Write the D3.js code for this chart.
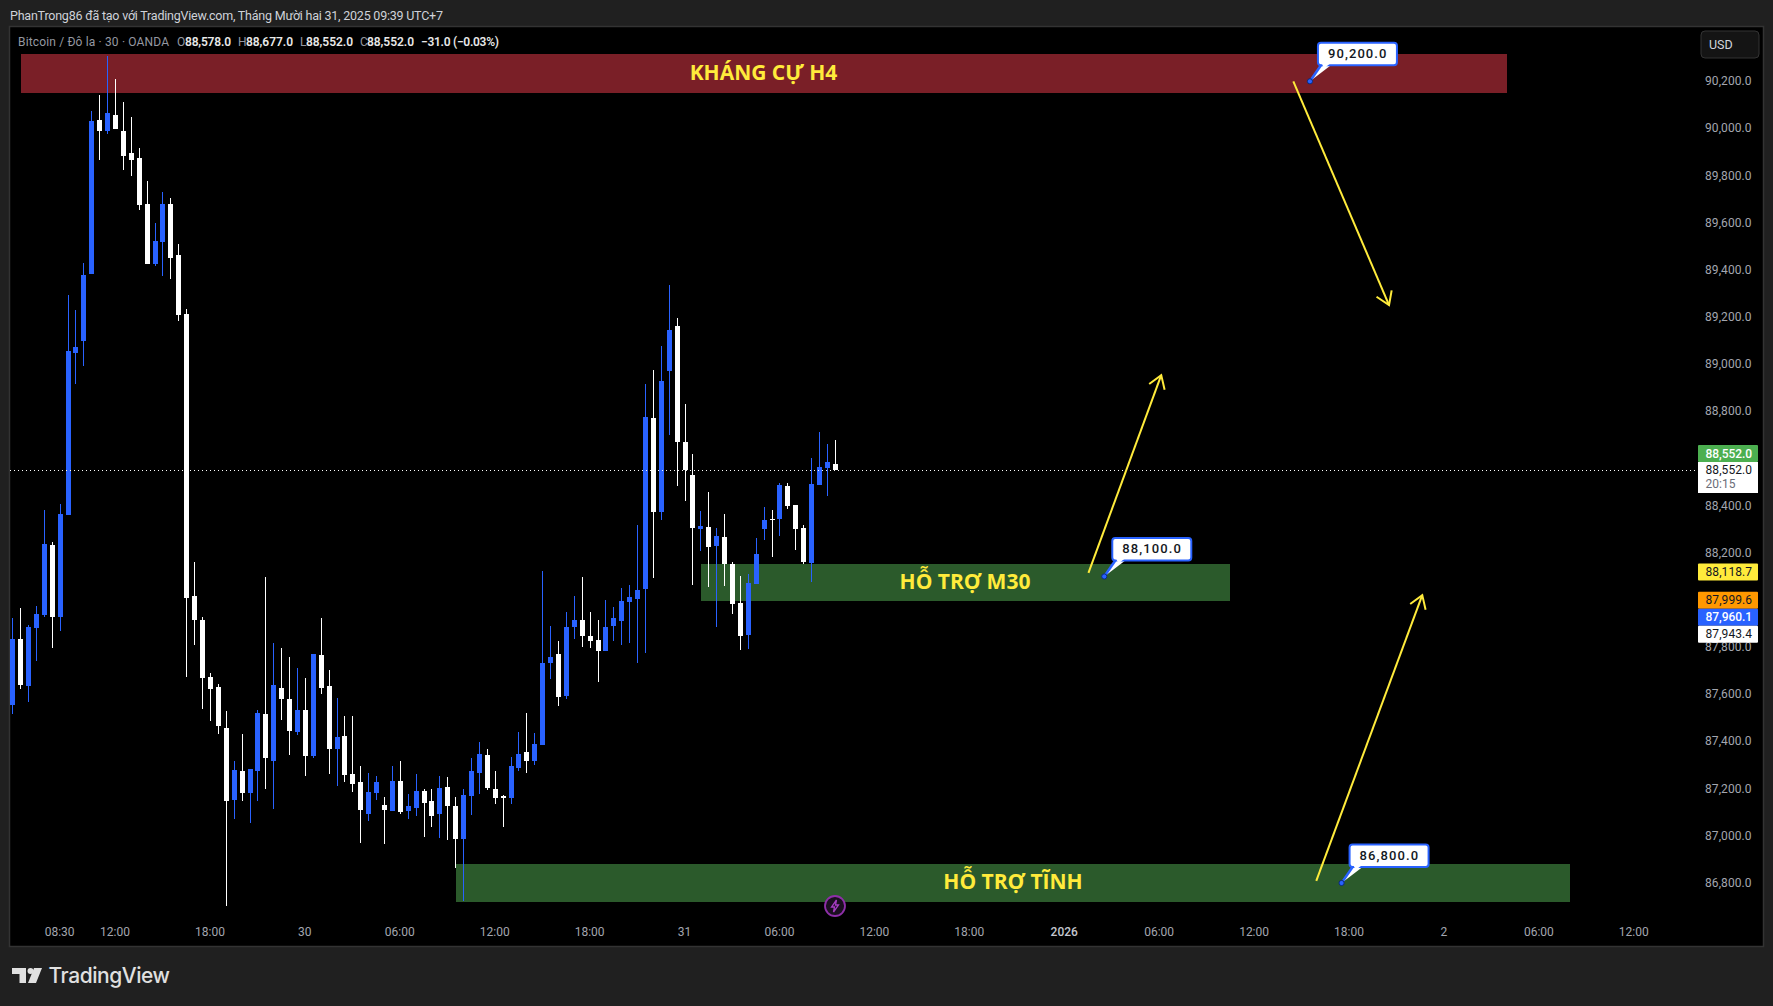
<!DOCTYPE html>
<html lang="vi">
<head>
<meta charset="utf-8">
<title>Bitcoin / Đô la</title>
<script src="https://cdnjs.cloudflare.com/ajax/libs/d3/7.8.5/d3.min.js"></script>
<style>
html,body{margin:0;padding:0;background:#202020;overflow:hidden}
svg{display:block}
text{font-family:Roboto,"Noto Sans",sans-serif}
</style>
</head>
<body>
<svg id="c" width="1773" height="1006"></svg>
<script>
const opens=[87555,87835,87636,87882,87937,88234,87928,88361,89048,89099,89383,90036,89989,90057,89989,89896,89875,89680,89425,89519,89680,89464,89213,88017,87916,87674,87631,87458,87152,87275,87182,87275,87517,87318,87627,87581,87441,87534,87339,87767,87636,87368,87424,87262,87229,87093,87182,87131,87106,87233,87106,87118,87190,87148,87093,87207,87127,86987,87169,87267,87343,87199,87169,87161,87288,87356,87318,87385,87733,87771,87593,87886,87916,87848,87831,87784,87890,87911,87992,88005,88047,88772,88374,88972,89162,88671,88531,88302,88310,88229,88268,88153,87988,87852,88068,88302,88344,88344,88484,88403,88306,88157,88488,88560,88578];
const highs=[87924,87967,87894,87975,88382,88246,88408,89294,89230,89430,90074,90142,90308,90210,90112,90049,89917,89777,89599,89731,89705,89510,89235,88162,87928,87691,87644,87530,87318,87432,87284,87534,88098,87818,87797,87759,87712,87670,87771,87924,87704,87585,87508,87508,87296,87267,87254,87165,87296,87318,87178,87262,87199,87199,87254,87250,87165,87199,87330,87398,87368,87275,87173,87335,87441,87521,87436,88123,87890,87826,87949,88017,88098,87949,87916,88000,87971,88051,88064,88319,88917,88976,89078,89336,89196,88832,88620,88378,88458,88306,88365,88162,88102,88111,88263,88395,88382,88497,88497,88403,88319,88603,88713,88662,88677];
const lows=[87517,87623,87568,87742,87928,87797,87869,88361,88916,88993,89383,89866,89977,89998,89824,89799,89654,89425,89417,89375,89362,89184,87674,87810,87538,87487,87432,86703,87072,87148,87055,87148,87199,87114,87491,87343,87428,87254,87330,87602,87262,87212,87229,87186,86970,87063,87152,86966,87106,87093,87072,87084,86995,87038,86991,86983,86864,86724,87089,87178,87195,87135,87038,87135,87275,87267,87301,87385,87665,87551,87581,87835,87801,87797,87653,87784,87826,87810,87818,87733,87776,88094,88340,88700,88484,88420,88064,88208,88056,87886,88060,87941,87788,87793,88068,88255,88183,88272,88386,88212,88153,88077,88488,88442,88552];
const closes=[87835,87640,87886,87941,88238,87928,88365,89056,89073,89379,90032,89989,90066,89998,89883,89866,89676,89425,89523,89680,89451,89209,88009,87916,87670,87623,87466,87148,87279,87182,87284,87521,87330,87640,87581,87445,87534,87339,87771,87627,87368,87419,87258,87220,87110,87186,87229,87110,87233,87101,87127,87190,87140,87084,87203,87127,86987,87173,87275,87347,87203,87161,87161,87296,87347,87318,87390,87733,87759,87589,87886,87916,87848,87826,87784,87886,87924,87996,88013,88043,88776,88374,88929,89145,88671,88552,88306,88314,88225,88272,88153,87983,87848,88073,88195,88340,88340,88488,88399,88302,88162,88492,88564,88586,88552];

const timeBars=[6,13,25,37,49,61,73,85,97,109,121,133,145,157,169,181,193,205];
const timeLabels=["08:30","12:00","18:00","30","06:00","12:00","18:00","31","06:00","12:00","18:00","2026","06:00","12:00","18:00","2","06:00","12:00"];
const priceTicks=[86800,87000,87200,87400,87600,87800,88200,88400,88800,89000,89200,89400,89600,89800,90000,90200];

const zoneNames=["KHÁNG CỰ H4","HỖ TRỢ M30","HỖ TRỢ TĨNH"];
const zoneTop=[90316,88153,86881];
const zoneBottom=[90150,87996,86720];
const zoneStart=[1,87,56];
const zoneEnd=[188.9,153.9,196.9];
const zoneFill=["#7a1f27","#2b5a2b","#2b5a2b"];

const calloutBars=[164,138,168];
const calloutPrices=[90200,88100,86800];

const arrowStartBars=[161.9,136,164.8];
const arrowStartPrices=[90200,88115,86809];
const arrowEndBars=[174,145.2,178.2];
const arrowEndPrices=[89251,88954,88021];

const lastPrice=88552;
const yellowTag=88118.7, orangeTag=87999.6, blueTag=87960.1, whiteTag=87943.4;

const svg=d3.select("#c");
const x=d3.scaleLinear().domain([0,205]).range([12.7,1634.25]);
const y=d3.scaleLinear().domain([90200,86800]).range([81.3,883]);
const fmt=d3.format(",.1f");
const BLUE="#2962ff", WHITE="#ffffff", AXIS="#a3a6af", L=10,T=27,R=1763,B=946;

// frame
svg.append("rect").attr("width",1773).attr("height",1006).attr("fill","#202020");
svg.append("rect").attr("x",L-.5).attr("y",T-.5).attr("width",R-L+1).attr("height",B-T+1).attr("fill","#000").attr("stroke","#333").attr("stroke-width",1.5);

function fit(sel,len){return sel.attr("textLength",len).attr("lengthAdjust","spacing");}

// header
fit(svg.append("text").attr("x",10).attr("y",19.5).attr("fill","#cfd2d9").attr("font-size",12.5)
 .text("PhanTrong86 đã tạo với TradingView.com, Tháng Mười hai 31, 2025 09:39 UTC+7"),433);

// zones
const zones=zoneNames.map((n,i)=>({n,top:zoneTop[i],bot:zoneBottom[i],s:zoneStart[i],e:zoneEnd[i],f:zoneFill[i]}));
svg.append("g").selectAll("rect").data(zones).join("rect")
 .attr("x",d=>x(d.s)).attr("width",d=>x(d.e)-x(d.s))
 .attr("y",d=>y(d.top)).attr("height",d=>y(d.bot)-y(d.top)).attr("fill",d=>d.f).attr("shape-rendering","crispEdges");

// candles
const candles=opens.map((o,i)=>({i,o,h:highs[i],l:lows[i],c:closes[i]}));
const gC=svg.append("g").attr("shape-rendering","crispEdges");
const px=i=>Math.floor(x(i))+.5;
const color=d=>d.c>d.o?BLUE:WHITE;
gC.selectAll("line").data(candles).join("line")
 .attr("x1",d=>px(d.i)).attr("x2",d=>px(d.i)).attr("y1",d=>y(d.h)).attr("y2",d=>y(d.l))
 .attr("stroke",color).attr("stroke-width",1);
gC.selectAll("rect").data(candles).join("rect")
 .attr("x",d=>Math.max(L,px(d.i)-2.5)).attr("width",d=>px(d.i)+2.5-Math.max(L,px(d.i)-2.5))
 .attr("y",d=>y(Math.max(d.o,d.c))).attr("height",d=>Math.max(1.5,Math.abs(y(d.o)-y(d.c))))
 .attr("fill",color);

// last price line
const lineY=Math.round(y(lastPrice))+.5;
svg.append("line").attr("x1",L).attr("x2",1698).attr("y1",lineY).attr("y2",lineY)
 .attr("stroke","#fff").attr("stroke-width",1).attr("stroke-dasharray","1,3").attr("shape-rendering","crispEdges");

// zone labels
const zoneLabelX=[763.5,965,1013];
svg.append("g").selectAll("text").data(zones).join("text")
 .attr("x",(d,i)=>zoneLabelX[i]).attr("y",d=>(y(d.top)+y(d.bot))/2+6.5)
 .attr("text-anchor","middle").attr("fill","#ffeb3b").attr("font-weight",700).attr("font-size",21)
 .style("font-family",'"Open Sans",Roboto,sans-serif').text(d=>d.n);

// arrows
const arrows=arrowStartBars.map((b,i)=>({x1:x(b),y1:y(arrowStartPrices[i]),x2:x(arrowEndBars[i]),y2:y(arrowEndPrices[i])}));
const gA=svg.append("g").attr("stroke","#ffeb3b").attr("stroke-width",2).attr("fill","none");
arrows.forEach(a=>{
  const ang=Math.atan2(a.y2-a.y1,a.x2-a.x1), w=15, sp=.58;
  gA.append("path").attr("d",d3.line()([[a.x1,a.y1],[a.x2,a.y2]]));
  gA.append("path").attr("d",d3.line()([
    [a.x2-w*Math.cos(ang-sp),a.y2-w*Math.sin(ang-sp)],[a.x2,a.y2],[a.x2-w*Math.cos(ang+sp),a.y2-w*Math.sin(ang+sp)]]));
});

// callouts
calloutBars.forEach((b,i)=>{
  const dx=x(b), dy=y(calloutPrices[i]), bx=dx+8, by=dy-38.5, bw=79, bh=22.5;
  const g=svg.append("g");
  g.append("path").attr("d",`M${dx},${dy}L${bx+3},${by+bh}L${bx+13},${by+bh}Z`).attr("fill","#fff");
  g.append("line").attr("x1",dx).attr("y1",dy).attr("x2",bx+3).attr("y2",by+bh).attr("stroke",BLUE).attr("stroke-width",2.5);
  g.append("rect").attr("x",bx).attr("y",by).attr("width",bw).attr("height",bh).attr("rx",3).attr("fill","#fff").attr("stroke",BLUE).attr("stroke-width",2);
  g.append("path").attr("d",`M${bx+4},${by+bh-1.5}L${bx+12},${by+bh-1.5}L${bx+6},${by+bh+3}Z`).attr("fill","#fff");
  g.append("circle").attr("cx",dx).attr("cy",dy).attr("r",2.6).attr("fill",BLUE).attr("stroke","#0b2a7a").attr("stroke-width",1);
  fit(g.append("text").attr("x",bx+10).attr("y",by+15.5).attr("fill","#131722").attr("font-size",13).attr("font-weight",500).text(fmt(calloutPrices[i])),58.5);
});

// axes
const yAxis=d3.axisRight(y).tickValues(priceTicks).tickFormat(fmt).tickSize(0).tickPadding(0);
const gy=svg.append("g").attr("transform","translate(1705,-0.4)").call(yAxis);
gy.select(".domain").remove();
gy.selectAll("text").attr("fill",AXIS).attr("font-size",12).attr("x",0).attr("textLength",46.5).attr("lengthAdjust","spacing");

const xAxis=d3.axisBottom(x).tickValues(timeBars).tickFormat((d,i)=>timeLabels[i]).tickSize(0).tickPadding(0);
const gx=svg.append("g").attr("transform","translate(-1,927.5)").call(xAxis);
gx.select(".domain").remove();
gx.selectAll("text").attr("font-size",12)
  .attr("fill",(d,i)=>timeLabels[i]==="2026"?"#c4c7cf":AXIS).attr("font-weight",(d,i)=>timeLabels[i]==="2026"?500:400);

// price tags
function tag(cy,h,bg,fg,txt,weight){
  svg.append("rect").attr("x",1698).attr("y",cy-h/2).attr("width",60).attr("height",h).attr("fill",bg).attr("rx",1);
  svg.append("text").attr("x",1705.5).attr("y",cy+4.2).attr("fill",fg).attr("font-size",12).attr("font-weight",weight||400)
   .attr("textLength",46.5).attr("lengthAdjust","spacing").text(txt);
}
const yl=y(lastPrice);
tag(yl-16.3,17,"#4caf50","#fff",fmt(lastPrice),500);
svg.append("rect").attr("x",1698).attr("y",462).attr("width",60).attr("height",31).attr("fill","#fff");
svg.append("text").attr("x",1705.5).attr("y",yl+4.3).attr("fill","#131722").attr("font-size",12).attr("textLength",46.5).attr("lengthAdjust","spacing").text(fmt(lastPrice));
svg.append("text").attr("x",1705.5).attr("y",yl+18.3).attr("fill","#6a6d78").attr("font-size",12).text("20:15");
tag(y(yellowTag),17,"#ffeb3b","#131722",fmt(yellowTag));
const yo=y(orangeTag);
tag(yo,17,"#ff9800","#131722",fmt(orangeTag));
tag(yo+17,17,BLUE,"#fff",fmt(blueTag),500);
tag(yo+34,17,"#fff","#131722",fmt(whiteTag));

// USD button
svg.append("rect").attr("x",1701).attr("y",31).attr("width",58).attr("height",27).attr("rx",4).attr("fill","#141414").attr("stroke","#333");
svg.append("text").attr("x",1709).attr("y",49).attr("fill","#d1d4dc").attr("font-size",12.5).text("USD");

// legend
const legendParts=[
 {x:18,t:"Bitcoin / Đô la · 30 · OANDA",f:"#9598a1",w:151,b:400},
 {x:177,t:"O",f:"#9598a1",b:400},{x:185,t:fmt(88578),f:"#e8e8e8",w:46,b:600},
 {x:238,t:"H",f:"#9598a1",b:400},{x:246,t:fmt(88677),f:"#e8e8e8",w:47,b:600},
 {x:300,t:"L",f:"#9598a1",b:400},{x:306,t:fmt(88552),f:"#e8e8e8",w:47,b:600},
 {x:360,t:"C",f:"#9598a1",b:400},{x:367,t:fmt(88552),f:"#e8e8e8",w:47,b:600},
 {x:421,t:"−31.0 (−0.03%)",f:"#e8e8e8",w:78,b:600}];
svg.append("g").selectAll("text").data(legendParts).join("text")
 .attr("x",d=>d.x).attr("y",46).attr("fill",d=>d.f).attr("font-size",12).attr("font-weight",d=>d.b)
 .each(function(d){if(d.w)d3.select(this).attr("textLength",d.w).attr("lengthAdjust","spacing");}).text(d=>d.t);

// bolt badge
const bg=svg.append("g").attr("transform","translate(835,906)");
bg.append("circle").attr("r",10).attr("fill","#1b0f20").attr("stroke","#8e2fa8").attr("stroke-width",1.8);
bg.append("path").attr("d","M1.5,-6L-3.5,1L-0.5,1L-1.5,6L3.5,-1L0.5,-1Z").attr("fill","none").attr("stroke","#a63cc2").attr("stroke-width",1.3);

// logo
const lg=svg.append("g").attr("fill","#e0e0e0");
lg.append("path").attr("d","M12,968H26V983H19.5V974H12Z");
lg.append("circle").attr("cx",30.5).attr("cy",971).attr("r",3);
lg.append("path").attr("d","M34,968H42L36,983H28Z");
svg.append("text").attr("x",48.5).attr("y",983).attr("fill","#e0e0e0").attr("font-size",21).attr("font-weight",500)
 .style("font-family","Inter,Roboto,sans-serif").attr("textLength",121.5).attr("lengthAdjust","spacing").text("TradingView");
</script>
</body>
</html>
